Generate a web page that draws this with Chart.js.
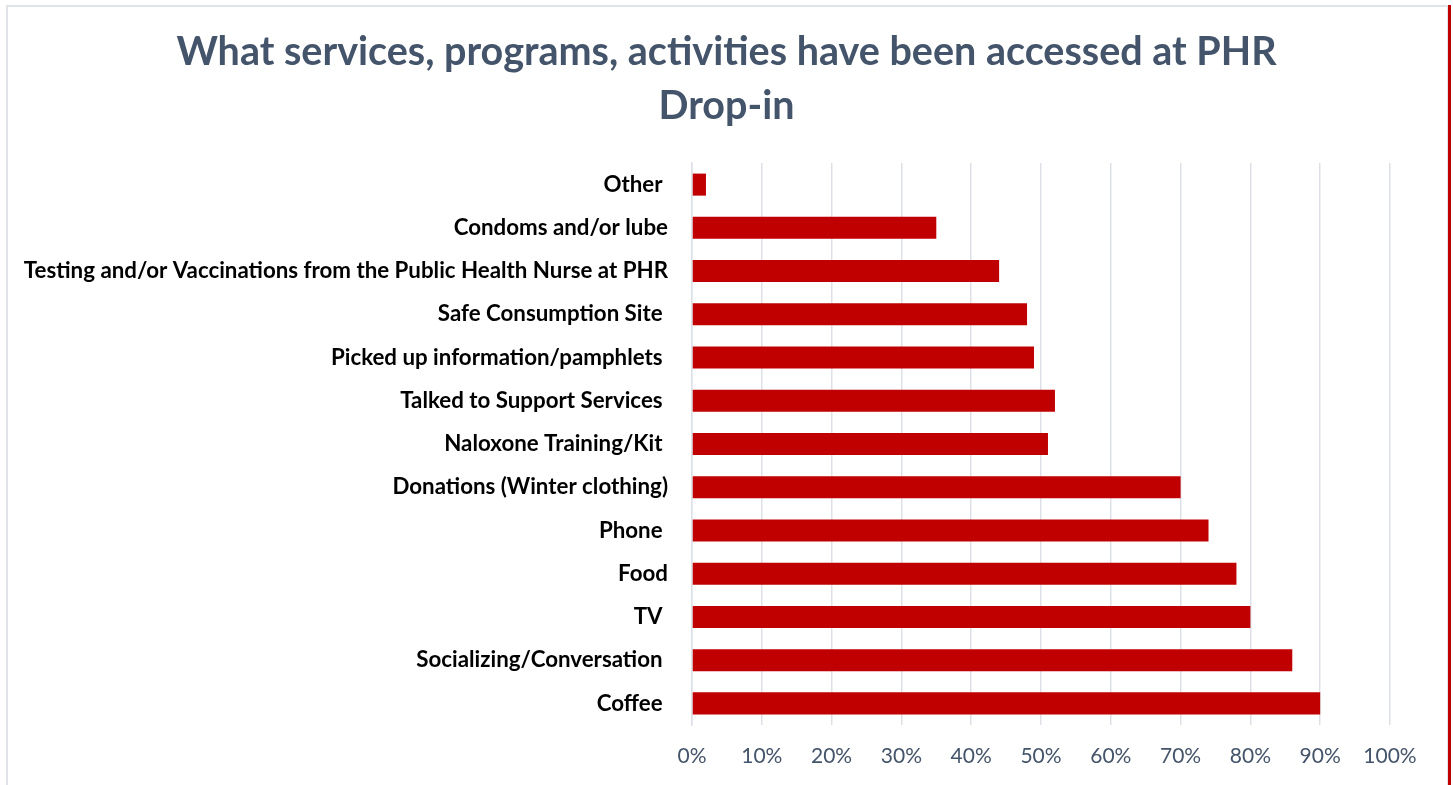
<!DOCTYPE html>
<html>
<head>
<meta charset="utf-8">
<script src="https://cdn.jsdelivr.net/npm/chart.js@4/dist/chart.umd.min.js"></script>
<style>
    html, body { margin: 0; padding: 0; background: #fff; overflow: hidden; }
    #wrap { position: relative; width: 1453px; height: 785px; }
    #frame { position: absolute; left: 6px; top: 5px; width: 1439px; height: 800px; border: 2px solid #E0E4E9; }
    #edge { position: absolute; left: 1448px; top: 5px; width: 3px; height: 780px; background: #C00000; }
    #chart { position: absolute; left: 0; top: 0; }
</style>
</head>
<body>
<div id="wrap">
    <div id="frame"></div>
    <div id="edge"></div>
    <canvas id="chart" width="1453" height="785"></canvas>
</div>
<script>
// categories top to bottom, value = share of respondents (%)
var categorias = [
    'Other ',
    'Condoms and/or lube',
    'Testing and/or Vaccinations from the Public Health Nurse at PHR',
    'Safe Consumption Site ',
    'Picked up information/pamphlets ',
    'Talked to Support Services ',
    'Naloxone Training/Kit ',
    'Donations (Winter clothing)',
    'Phone ',
    'Food',
    'TV ',
    'Socializing/Conversation ',
    'Coffee '
];
var porcentajes = [2, 35, 44, 48, 49, 52, 51, 70, 74, 78, 80, 86, 90];
var ticksX = [0, 10, 20, 30, 40, 50, 60, 70, 80, 90, 100];

var titulo = ['What services, programs, activities have been accessed at PHR', 'Drop-in'];
var fuente = "Lato, 'Open Sans', sans-serif";

/****************************************************** canvas **************************************/
function barrasCanvas() {
    var ctx = document.getElementById('chart').getContext('2d');
    var chart = new Chart(ctx, {
        type: 'bar',
        data: {
            labels: categorias,
            datasets: [{
                data: porcentajes,
                backgroundColor: '#C00000',
                borderWidth: 0,
                barPercentage: 0.85,
                categoryPercentage: 0.6
            }]
        },
        options: {
            indexAxis: 'y',
            responsive: false,
            animation: false,
            layout: { padding: 0 },
            plugins: {
                legend: { display: false },
                tooltip: { enabled: false },
                title: {
                    display: true,
                    text: titulo,
                    color: '#44546A',
                    font: { family: fuente, size: 39.5, weight: 'bold', lineHeight: 1.367 },
                    padding: { top: 25, bottom: 30 }
                }
            },
            scales: {
                x: {
                    min: 0,
                    max: 100,
                    afterBuildTicks: function (scale) {
                        scale.ticks = ticksX.map(function (v) { return { value: v }; });
                    },
                    afterFit: function (scale) { scale.height = 60; },
                    grid: { color: '#DDE1E7', lineWidth: 1.5, drawTicks: false },
                    border: { display: false },
                    ticks: {
                        padding: 19,
                        color: '#44546A',
                        font: { family: fuente, size: 21 },
                        callback: function (v) { return v + '%'; }
                    }
                },
                y: {
                    afterFit: function (scale) { scale.width = 692; },
                    grid: { display: false, drawTicks: false },
                    border: { display: true, color: '#DDE1E7', width: 1.5 },
                    ticks: {
                        padding: 24,
                        color: '#000000',
                        font: { family: fuente, size: 22.3, weight: 'bold' }
                    }
                },
                // empty margin on the right so the title stays centred on the page
                margen: {
                    type: 'linear',
                    axis: 'y',
                    position: 'right',
                    display: true,
                    afterFit: function (scale) { scale.width = 63; },
                    grid: { display: false, drawTicks: false },
                    border: { display: false },
                    ticks: { display: false }
                }
            }
        }
    });
}

barrasCanvas();
</script>
</body>
</html>
